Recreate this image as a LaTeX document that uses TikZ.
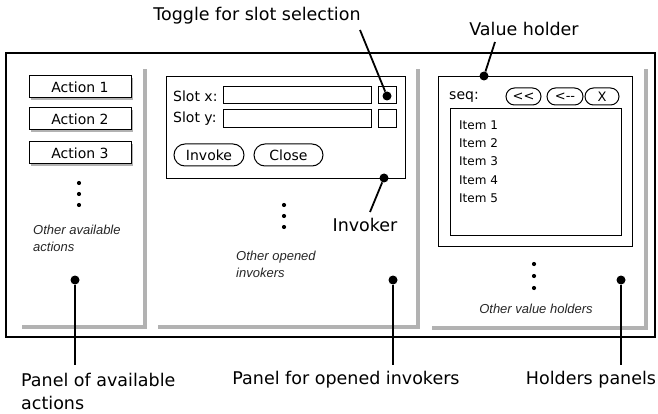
\documentclass[tikz,border=0pt]{standalone}
\usepackage{fontspec}
\setmainfont{DejaVu Sans}
\newfontfamily\itfont{Liberation Sans}
\usetikzlibrary{shapes.misc,shadows}
\begin{document}
\begin{tikzpicture}[x=1pt,y=-1pt,
  big/.style={font=\fontsize{17.5}{23}\selectfont},
  ui/.style={font=\fontsize{14}{16}\selectfont},
  small/.style={font=\fontsize{12}{18}\selectfont},
  itl/.style={font=\itfont\itshape\fontsize{13}{17}\selectfont, text=black!85},
  boxline/.style={draw, line width=1pt},
  gline/.style={draw=black!30, line width=4pt},
  conn/.style={line width=1.8pt},
  bigdot/.style={circle, fill, inner sep=0pt, minimum size=9pt},
  smdot/.style={circle, fill, inner sep=0pt, minimum size=4.2pt},
  abox/.style={boxline, fill=white, ui, inner sep=0pt, minimum width=102pt, minimum height=22pt,
     drop shadow={shadow xshift=2pt, shadow yshift=-2pt, fill=black!30, opacity=1}},
  btn/.style={boxline, rounded rectangle, ui, inner sep=0pt, minimum height=22pt},
  sbtn/.style={boxline, rounded rectangle, font=\fontsize{13}{15}\selectfont, inner sep=0pt, minimum height=17pt},
  plain/.style={inner sep=0pt}
]
\useasboundingbox (0,0) rectangle (658,414);
% outer frame
\draw[line width=1.1pt] (6,53) rectangle (655,337);
% panel shadows
\draw[gline] (22,327) -- (145,327) -- (145,69);
\draw[gline] (158,327) -- (418,327) -- (418,69);
\draw[gline] (432,328) -- (646,328) -- (646,69);

% ---- panel 1
\node[abox] (a1) at (80,87) {Action 1};
\node[abox] (a2) at (80,119) {Action 2};
\node[abox] (a3) at (80,153) {Action 3};
\node[smdot] (ad1) at (79,183) {};
\node[smdot] (ad2) at (79,194) {};
\node[smdot] (ad3) at (79,205) {};
\node[itl, plain, align=left, anchor=west] (aoth) at (33,238.5) {Other available\\actions};
\node[bigdot] (p1) at (75,280) {};
\coordinate (e1) at (75,365);
\draw[conn] (p1) -- (e1);
\node[big, plain, align=left, anchor=west] (l1) at (21,391) {Panel of available\\actions};

% ---- panel 2
\node[boxline, plain, minimum width=239pt, minimum height=102pt, anchor=north west] (invoker) at (166,76) {};
\node[ui, plain, anchor=west] (sx) at (173,96) {Slot x:};
\node[ui, plain, anchor=west] (sy) at (173,119) {Slot y:};
\draw[boxline] (223,87) rectangle (371,104);
\draw[boxline] (223,110) rectangle (371,128);
\draw[boxline] (378,87) rectangle (396,104);
\draw[boxline] (378,110) rectangle (396,128);
\node[btn, minimum width=70pt] (binv) at (209,155) {Invoke};
\node[btn, minimum width=69pt] (bclose) at (288.5,155) {Close};
\node[bigdot] (tdot) at (387,96) {};
\coordinate (te) at (360,30);
\draw[conn] (tdot) -- (te);
\node[big] (tlab) at (257,16) {Toggle for slot selection};
\node[bigdot] (idot) at (384,178) {};
\coordinate (ie) at (370,212);
\draw[conn] (idot) -- (ie);
\node[big] (ilab) at (365,225) {Invoker};
\node[smdot] (od1) at (284,205) {};
\node[smdot] (od2) at (284,216) {};
\node[smdot] (od3) at (284,227) {};
\node[itl, plain, align=left, anchor=west] (ooth) at (236,264.5) {Other opened\\invokers};
\node[bigdot] (p2) at (393,280) {};
\coordinate (e2) at (393,365);
\draw[conn] (p2) -- (e2);
\node[big] (l2) at (346,380) {Panel for opened invokers};

% ---- panel 3
\node[boxline, plain, minimum width=194pt, minimum height=170pt, anchor=north west] (holder) at (438,76) {};
\node[ui, plain, anchor=west] (seq) at (449,97) {seq:};
\node[sbtn, minimum width=35pt] (b1) at (523.5,96.5) {<{}<};
\node[sbtn, minimum width=36pt] (b2) at (565,96.5) {<-{}-};
\node[sbtn, minimum width=34pt] (b3) at (602,96.5) {X};
\draw[boxline] (450,109) rectangle (621,235);
\node[small, plain, anchor=west] (i1) at (459,125) {Item 1};
\node[small, plain, anchor=west] (i2) at (459,143.3) {Item 2};
\node[small, plain, anchor=west] (i3) at (459,161.6) {Item 3};
\node[small, plain, anchor=west] (i4) at (459,179.9) {Item 4};
\node[small, plain, anchor=west] (i5) at (459,198.2) {Item 5};
\node[bigdot] (vdot) at (484,76) {};
\coordinate (ve) at (495,42);
\draw[conn] (vdot) -- (ve);
\node[big] (vlab) at (524,29) {Value holder};
\node[smdot] (hd1) at (534,264) {};
\node[smdot] (hd2) at (534,276) {};
\node[smdot] (hd3) at (534,288) {};
\node[itl] (hoth) at (536,309) {Other value holders};
\node[bigdot] (p3) at (621,280) {};
\coordinate (e3) at (621,365);
\draw[conn] (p3) -- (e3);
\node[big] (l3) at (591,380) {Holders panels};
\end{tikzpicture}
\end{document}
